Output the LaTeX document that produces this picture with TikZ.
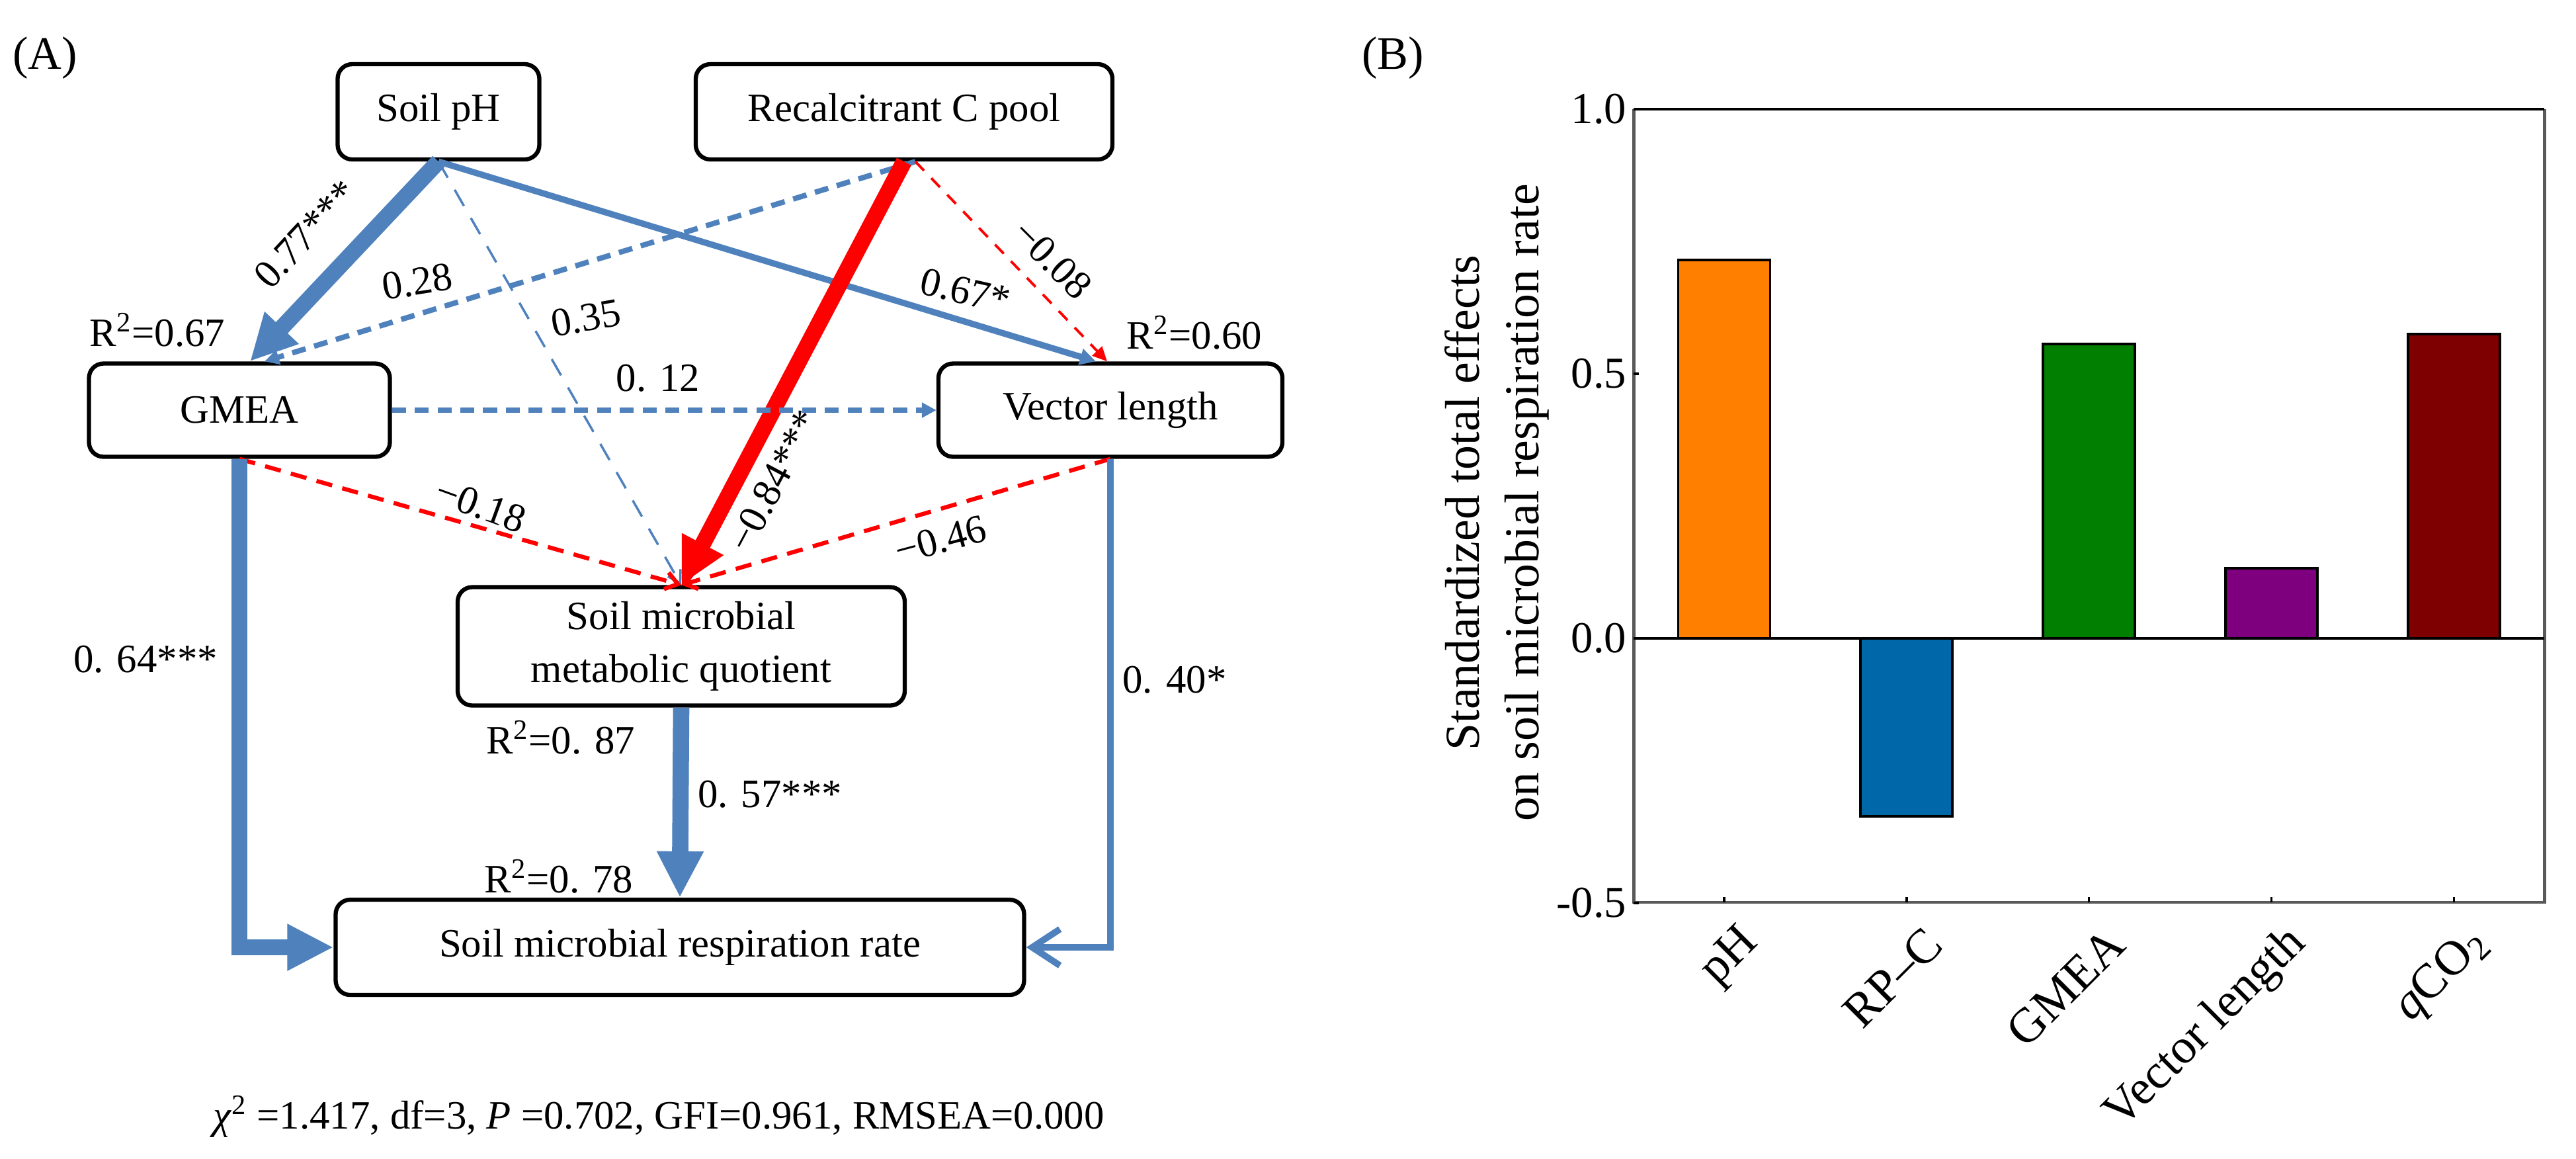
\documentclass[tikz,border=0pt]{standalone}
\usepackage{fontspec}
\setmainfont{Liberation Serif}
\usetikzlibrary{arrows.meta}

\definecolor{pathblue}{RGB}{79,129,189}
\definecolor{pathred}{RGB}{255,0,0}
\definecolor{barorange}{RGB}{255,127,0}
\definecolor{barblue}{RGB}{0,104,168}
\definecolor{bargreen}{RGB}{0,127,0}
\definecolor{barpurple}{RGB}{127,0,127}
\definecolor{barred}{RGB}{127,0,0}

\begin{document}
\begin{tikzpicture}[
    every node/.style={font=\fontsize{17.3pt}{22.7pt}\selectfont, inner sep=0pt},
    var/.style={draw, line width=1.8pt, rounded corners=0.22cm, align=center},
    big/.style={line width=7pt, -{Triangle[length=0.7cm,width=0.66cm]}},
    mid/.style={line width=2.7pt, -{Triangle[length=0.24cm,width=0.24cm]}},
    middash/.style={line width=2.3pt, dash pattern=on 6pt off 3.8pt, -{Triangle[length=0.22cm,width=0.22cm]}},
    reddash/.style={pathred, line width=1.8pt, dash pattern=on 7pt off 4.5pt, -{Straight Barb[length=0.18cm,width=0.26cm]}},
    thindash/.style={line width=1pt, dash pattern=on 8pt off 6pt, -{Straight Barb[length=0.18cm,width=0.22cm]}},
    panel/.style={font=\fontsize{20pt}{24pt}\selectfont},
    tick/.style={font=\fontsize{19pt}{23pt}\selectfont, anchor=east},
    cat/.style={font=\fontsize{21pt}{25pt}\selectfont, rotate=45, anchor=east}
  ]

  \useasboundingbox (0,0) rectangle (38.95,-17.51);

  % Panel labels
  \node[panel] (pa) at (0.68,-0.88) {(A)};
  \node[panel] (pb) at (21.06,-0.88) {(B)};

  % Boxes
  \node[var, minimum width=3.05cm, minimum height=1.44cm] (ph) at (6.63,-1.69) {Soil pH};
  \node[var, minimum width=6.30cm, minimum height=1.44cm] (rcp) at (13.67,-1.69) {Recalcitrant C pool};
  \node[var, minimum width=4.55cm, minimum height=1.41cm] (gmea) at (3.62,-6.20) {GMEA};
  \node[var, minimum width=5.20cm, minimum height=1.41cm] (vl) at (16.79,-6.20) {Vector length};
  \node[var, minimum width=6.76cm, minimum height=1.79cm] (mq) at (10.30,-9.77) {Soil microbial\\metabolic quotient};
  \node[var, minimum width=10.41cm, minimum height=1.44cm] (smr) at (10.28,-14.32) {Soil microbial respiration rate};

  % Paths from soil pH
  \draw[thindash, pathblue] (ph.south) -- (mq.north);
  \draw[mid, pathblue] (ph.south) -- ([xshift=-0.22cm]vl.north);
  \draw[big, pathblue] (ph.south) -- ([xshift=0.16cm]gmea.north);

  % Paths from recalcitrant C pool
  \draw[middash, pathblue] ([xshift=0.17cm]rcp.south) -- ([xshift=0.38cm]gmea.north);
  \draw[pathred, line width=1.1pt, dash pattern=on 5.4pt off 4.5pt, -{Triangle[length=0.22cm,width=0.2cm]}] ([xshift=0.17cm]rcp.south) -- ([xshift=-0.05cm]vl.north);
  \draw[big, pathred] (rcp.south) -- (mq.north);

  % Paths between the middle boxes
  \draw[middash, pathblue] (gmea.east) -- (vl.west);
  \draw[reddash] (gmea.south) -- (mq.north);
  \draw[reddash] (vl.south) -- (mq.north);

  % Paths to respiration rate
  \draw[big, pathblue, line width=6.6pt] (gmea.south) |- (smr.west);
  \draw[big, pathblue] (mq.south) -- (smr.north);
  \draw[pathblue, line width=2.8pt, -{Straight Barb[length=0.42cm,width=0.55cm]}] (vl.south) |- (smr.east);

  % Path coefficients
  \node[rotate=47] (c077) at (4.62,-3.54) {0.77***};
  \node[rotate=9] (c028) at (6.31,-4.26) {0.28};
  \node[rotate=10] (c035) at (8.86,-4.81) {0.35};
  \node (c012) at (9.95,-5.72) {0. 12};
  \node[rotate=-13] (c067) at (14.60,-4.40) {0.67*};
  \node[rotate=-45] (c008) at (15.91,-3.92) {−0.08};
  \node[rotate=62] (c084) at (11.70,-7.27) {−0.84***};
  \node[rotate=-20] (c018) at (7.27,-7.64) {−0.18};
  \node[rotate=15] (c046) at (14.22,-8.16) {−0.46};
  \node (c064) at (2.20,-9.97) {0. 64***};
  \node (c057) at (11.64,-12.01) {0. 57***};
  \node (c040) at (17.76,-10.28) {0. 40*};

  % R squared
  \node (r067) at (2.38,-4.99) {R\textsuperscript{2}=0.67};
  \node (r060) at (18.06,-5.03) {R\textsuperscript{2}=0.60};
  \node (r087) at (8.48,-11.15) {R\textsuperscript{2}=0. 87};
  \node (r078) at (8.45,-13.25) {R\textsuperscript{2}=0. 78};

  % Fit
  \node (fit) at (9.96,-16.88) {\textit{χ}\textsuperscript{2} =1.417, df=3, \textit{P} =0.702, GFI=0.961, RMSEA=0.000};

  % Bars
  \foreach \val/\col [count=\i] in {0.715/barorange, -0.336/barblue, 0.556/bargreen, 0.1325/barpurple, 0.575/barred} {
    \pgfmathsetmacro{\xc}{26.07+2.758*(\i-1)}
    \filldraw[fill=\col, draw=black, line width=1.1pt] ({\xc-0.695},-9.65) rectangle ({\xc+0.695},{-9.65+8*(\val)});
  }

  % Axes
  \draw[black!65, line width=1.4pt] (24.70,-1.65) -- (24.70,-13.64) -- (38.47,-13.64) -- (38.47,-1.65);
  \draw[line width=1.3pt] (24.70,-1.65) -- (38.47,-1.65);
  \draw[line width=1.3pt] (24.70,-9.65) -- (38.47,-9.65);

  \foreach \v/\txt [count=\i] in {1.0/1.0, 0.5/0.5, 0.0/0.0, -0.5/-0.5} {
    \draw[line width=1pt] (24.70,{-9.65+8*(\v)}) -- (24.78,{-9.65+8*(\v)});
    \node[tick] (yt\i) at (24.60,{-9.65+8*(\v)}) {\txt};
  }

  \foreach \lab [count=\i] in {pH, RP–C, GMEA, Vector length, \textit{q}CO\textsubscript{2}} {
    \pgfmathsetmacro{\xc}{26.07+2.758*(\i-1)}
    \draw[line width=1pt] (\xc,-13.64) -- (\xc,-13.56);
    \node[cat] (xt\i) at ({\xc+0.42},-14.15) {\lab};
  }

  \node[rotate=90, align=center, font=\fontsize{21pt}{25.6pt}\selectfont] (ylab) at (22.63,-7.60) {Standardized total effects\\on soil microbial respiration rate};

\end{tikzpicture}
\end{document}
